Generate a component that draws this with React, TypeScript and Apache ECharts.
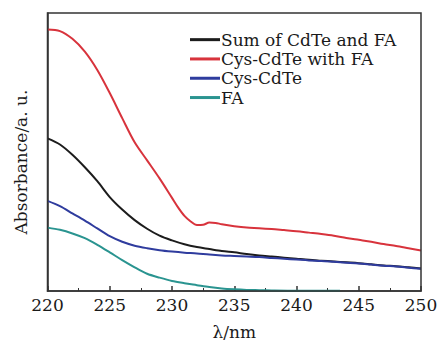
import React, { useEffect, useRef } from "react";
import * as echarts from "echarts";

const seriesNames = ["Sum of CdTe and FA", "Cys-CdTe with FA", "Cys-CdTe", "FA"];
const seriesColors = ["#1c1c1c", "#d8333c", "#2f3c9e", "#2a9490"];

const xTicks = { min: 220, max: 250, interval: 5 };

const sumX = [220, 221, 222, 223, 224, 225, 226, 227, 228, 229, 230, 231, 232, 233, 234, 235, 236, 237, 238, 239, 240, 241, 242, 243, 244, 245, 246, 247, 248, 249, 250];
const sumY = [0.549, 0.527, 0.49, 0.445, 0.395, 0.338, 0.293, 0.255, 0.224, 0.199, 0.182, 0.168, 0.158, 0.151, 0.144, 0.139, 0.133, 0.128, 0.124, 0.12, 0.116, 0.112, 0.109, 0.106, 0.103, 0.1, 0.096, 0.092, 0.089, 0.085, 0.081];

const withFaX = [220, 221, 222, 223, 224, 225, 226, 227, 228, 229, 230, 230.5, 231, 231.5, 232, 232.5, 233, 233.5, 234, 235, 236, 237, 238, 239, 240, 241, 242, 243, 244, 245, 246, 247, 248, 249, 250];
const withFaY = [0.941, 0.935, 0.907, 0.861, 0.795, 0.712, 0.622, 0.535, 0.47, 0.405, 0.335, 0.3, 0.27, 0.25, 0.237, 0.238, 0.246, 0.245, 0.24, 0.233, 0.228, 0.226, 0.223, 0.219, 0.215, 0.21, 0.205, 0.199, 0.191, 0.184, 0.177, 0.169, 0.162, 0.154, 0.146];

const cdteX = [220, 221, 222, 223, 224, 225, 226, 227, 228, 229, 230, 231, 232, 233, 234, 235, 236, 237, 238, 239, 240, 241, 242, 243, 244, 245, 246, 247, 248, 249, 250];
const cdteY = [0.324, 0.305, 0.279, 0.253, 0.225, 0.197, 0.177, 0.163, 0.154, 0.147, 0.142, 0.138, 0.135, 0.131, 0.128, 0.126, 0.124, 0.122, 0.119, 0.116, 0.113, 0.11, 0.108, 0.105, 0.102, 0.099, 0.095, 0.091, 0.088, 0.084, 0.08];

const faX = [220, 221, 222, 223, 224, 225, 226, 227, 228, 229, 230, 231, 232, 233, 234, 235, 236, 237, 238, 240, 243.5];
const faY = [0.228, 0.22, 0.207, 0.19, 0.166, 0.139, 0.111, 0.085, 0.062, 0.048, 0.036, 0.028, 0.021, 0.014, 0.009, 0.006, 0.004, 0.003, 0.002, 0.001, 0.001];

const xs = [sumX, withFaX, cdteX, faX];
const ys = [sumY, withFaY, cdteY, faY];

const FONT = "DejaVu Serif";
const FRAME = { color: "#333", width: 1.5 };
const GRID = { left: 47.5, right: 18, top: 13, bottom: 49 };

export default function App() {
  const ref = useRef<HTMLDivElement>(null);
  useEffect(() => {
    if (!ref.current) return;
    const chart = echarts.init(ref.current, undefined, { renderer: "svg" });
    chart.setOption({
      animation: false,
      backgroundColor: "#ffffff",
      textStyle: { fontFamily: FONT },
      grid: {
        ...GRID,
        show: false,
        outerBoundsMode: "none",
        containLabel: false,
      },
      graphic: [
        {
          type: "rect",
          silent: true,
          z: 10,
          shape: {
            x: GRID.left,
            y: GRID.top,
            width: 439 - GRID.left - GRID.right,
            height: 340 - GRID.top - GRID.bottom,
          },
          style: { fill: "none", stroke: FRAME.color, lineWidth: FRAME.width },
        },
      ],
      legend: {
        orient: "vertical",
        left: 190,
        top: 30,
        padding: 0,
        itemGap: 0,
        itemWidth: 30,
        itemHeight: 3,
        icon: "rect",
        data: seriesNames,
        textStyle: {
          fontFamily: FONT,
          fontSize: 17,
          color: "#1a1a1a",
          lineHeight: 19.3,
          padding: [0, 0, 0, -4],
        },
      },
      xAxis: [
        {
          type: "value",
          position: "bottom",
          min: xTicks.min,
          max: xTicks.max,
          interval: xTicks.interval,
          name: "λ/nm",
          nameLocation: "middle",
          nameGap: 32,
          nameTextStyle: { fontFamily: FONT, fontSize: 17, color: "#1a1a1a" },
          axisLine: { show: true, onZero: false, lineStyle: FRAME },
          axisTick: { show: true, inside: true, length: 5, lineStyle: FRAME },
          minorTick: { show: true, splitNumber: 2, length: 3, lineStyle: { color: "#333", width: 1 } },
          splitLine: { show: false },
          axisLabel: { fontFamily: FONT, fontSize: 17, color: "#1a1a1a", margin: 5 },
        },
      ],
      yAxis: [
        {
          type: "value",
          position: "left",
          min: 0,
          max: 1,
          name: "Absorbance/a. u.",
          nameLocation: "middle",
          nameGap: 18,
          nameRotate: 90,
          nameTextStyle: { fontFamily: FONT, fontSize: 17, color: "#1a1a1a", padding: [0, 20, 0, 0] },
          axisLine: { show: true, onZero: false, lineStyle: FRAME },
          axisTick: { show: false },
          axisLabel: { show: false },
          splitLine: { show: false },
        },
      ],
      series: seriesNames.map((name, i) => ({
        name,
        type: "line",
        data: xs[i].map((x, j) => [x, ys[i][j]]),
        symbol: "none",
        smooth: 0.3,
        lineStyle: { color: seriesColors[i], width: 2 },
        itemStyle: { color: seriesColors[i] },
      })),
    });
    return () => chart.dispose();
  }, []);
  return (
    <div
      ref={ref}
      style={{ position: "fixed", left: 0, top: 0, width: 439, height: 340 }}
    />
  );
}
